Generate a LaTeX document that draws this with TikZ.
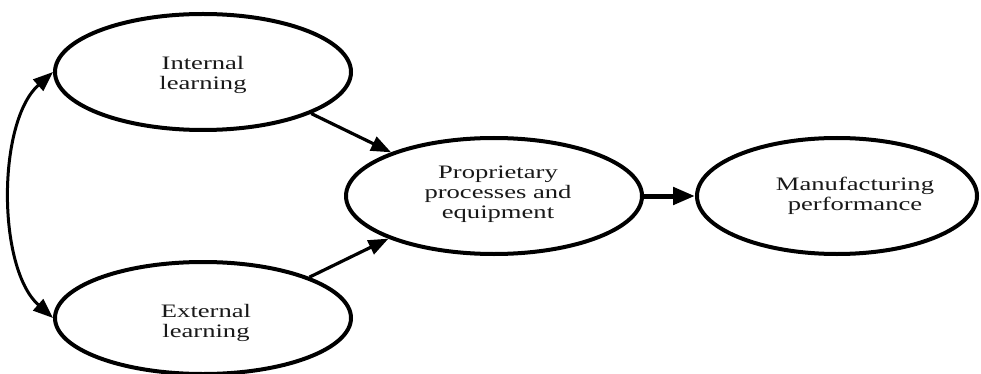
\documentclass[tikz,border=0pt]{standalone}
\usepackage{fontspec}
\setmainfont{Liberation Serif}
\newfontfamily\stretchedserif[FakeStretch=1.4]{Liberation Serif}
\usetikzlibrary{shapes.geometric,arrows.meta}
\begin{document}
\begin{tikzpicture}[x=1pt,y=1pt,
  txt/.style={inner sep=0pt, align=center, text=black!90,
    font={\stretchedserif\fontsize{19}{20}\selectfont}},
  oval/.style={ellipse, draw=black, line width=4pt, inner sep=0pt,
    minimum height=116pt},
  arr/.style={line width=3.2pt, -{Triangle[length=20pt,width=15pt]}},
  darr/.style={line width=3pt, {Triangle[length=20pt,width=15pt]}-{Triangle[length=20pt,width=15pt]}},
  thickarr/.style={line width=5pt, -{Triangle[length=22pt,width=17pt]}}]
\useasboundingbox (0,0) rectangle (981,-374);
\node[oval, minimum width=296pt] (int) at (203,-72) {};
\node[txt] (inttext) at (203,-74.5) {Internal\\learning};
\node[oval, minimum width=296pt, minimum height=112pt] (ext) at (203,-318) {};
\node[txt] (exttext) at (206,-323) {External\\learning};
\node[oval, minimum width=296pt] (prop) at (494,-196) {};
\node[txt] (proptext) at (498,-194.5) {Proprietary\\processes and\\equipment};
\node[oval, minimum width=280pt] (manu) at (837,-196) {};
\node[txt] (manutext) at (855,-196) {Manufacturing\\performance};
\draw[arr] (int.-21.5) -- (prop.157.5);
\draw[arr] (ext.21.5) -- (prop.-158.5);
\draw[thickarr] (prop.east) -- (manu.west);
\draw[darr] (int.west) .. controls +(-56,-50) and +(-56,50) .. (ext.west);
\end{tikzpicture}
\end{document}
